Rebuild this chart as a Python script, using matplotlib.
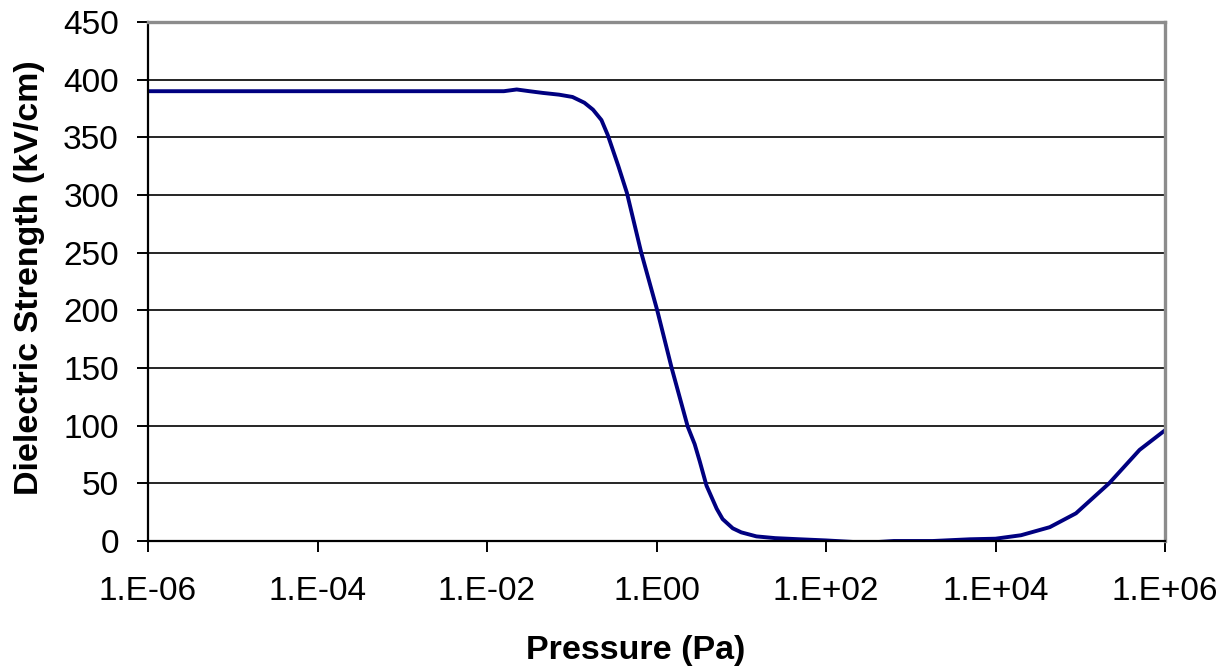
import matplotlib
matplotlib.use("Agg")
import matplotlib.pyplot as plt

pressure_pa = [1e-6, 0.0158, 0.0224, 0.0316, 0.0457, 0.0708, 0.102, 0.141, 0.178,
               0.224, 0.266, 0.355, 0.447, 0.661, 1.02, 1.51, 2.34, 2.82, 3.24,
               3.89, 5.13, 6.03, 7.94, 10.0, 15.1, 25.1, 49.0, 100.0, 302.0,
               631.0, 1820.0, 5010.0, 1.0e4, 2.0e4, 4.37e4, 8.9e4, 2.19e5,
               5.01e5, 1.0e6]
strength_kv_cm = [390, 390, 391.5, 390, 388.5, 387, 385, 380, 374,
                  365, 352, 325, 302, 250, 200, 150, 99, 84, 69,
                  48, 28, 19, 11, 7.5, 4, 2.5, 1.5, 0.5, -1.5,
                  0, 0, 1.5, 2, 5, 12, 24, 50,
                  79, 96]

x_ticks = [1e-6, 1e-4, 1e-2, 1e0, 1e2, 1e4, 1e6]
x_tick_labels = ["1.E-06", "1.E-04", "1.E-02", "1.E00", "1.E+02", "1.E+04", "1.E+06"]
y_ticks = list(range(0, 451, 50))

plt.rcParams['font.family'] = ['Liberation Sans', 'DejaVu Sans']

fig = plt.figure(figsize=(12.32, 6.69), dpi=100)
ax = fig.add_axes([148/1232, 1 - 541/669, (1165 - 148)/1232, (541 - 22)/669])

ax.plot(pressure_pa, strength_kv_cm, color='#000080', lw=2.8,
        solid_joinstyle='round', solid_capstyle='round')

ax.set_xscale('log')
ax.set_xlim(1e-6, 1e6)
ax.set_ylim(0, 450)
ax.set_xticks(x_ticks)
ax.set_xticklabels(x_tick_labels)
ax.xaxis.set_minor_locator(matplotlib.ticker.NullLocator())
ax.set_yticks(y_ticks)

ax.yaxis.grid(True, color='black', lw=1.2)
ax.set_axisbelow(True)

for s in ['left', 'bottom']:
    ax.spines[s].set_color('black')
    ax.spines[s].set_linewidth(1.6)
for s in ['top', 'right']:
    ax.spines[s].set_color('#8c8c8c')
    ax.spines[s].set_linewidth(2.4)

ax.tick_params(axis='both', direction='out', length=8, width=1.4, color='black',
               labelsize=24)
ax.tick_params(axis='x', pad=17)
ax.tick_params(axis='y', pad=13)

ax.set_xlabel('Pressure (Pa)', fontsize=24.5, fontweight='bold', va='center')
ax.set_ylabel('Dielectric Strength (kV/cm)', fontsize=24.5, fontweight='bold', va='center')
ax.xaxis.set_label_coords((636 - 148)/(1165 - 148), -(650 - 541)/(541 - 22))
ax.yaxis.set_label_coords(-(148 - 30)/(1165 - 148), (541 - 278)/(541 - 22))

fig.savefig('out.png', dpi=100)
